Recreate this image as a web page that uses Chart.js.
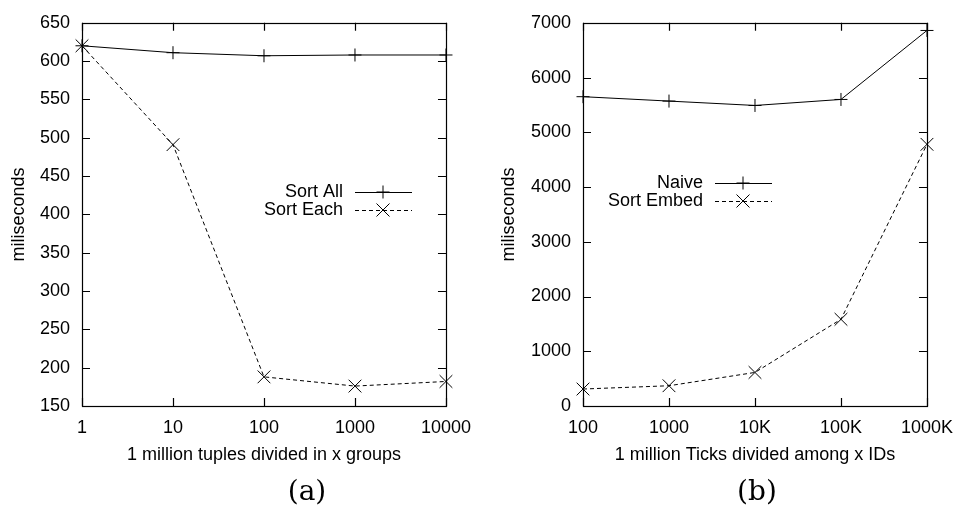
<!DOCTYPE html>
<html>
<head>
<meta charset="utf-8">
<script src="https://cdn.jsdelivr.net/npm/chart.js@4.4.0/dist/chart.umd.min.js"></script>
<style>
  html,body{margin:0;padding:0;background:#fff;}
  #wrap{position:relative;width:964px;height:512px;overflow:hidden;}
  .pane{position:absolute;top:0;width:482px;height:512px;}
  .cap{position:absolute;top:475px;font-family:"DejaVu Serif","Liberation Serif",serif;font-size:28px;line-height:32px;color:#000;transform:translateX(-50%);}
</style>
</head>
<body>
<div id="wrap">
  <div class="pane" style="left:0"><canvas id="chartA" width="482" height="512"></canvas></div>
  <div class="pane" style="left:482px"><canvas id="chartB" width="482" height="512"></canvas></div>
  <div class="cap" style="left:307px">(a)</div>
  <div class="cap" style="left:757px">(b)</div>
</div>
<script>
// ======= Data =======
const groupsA = ['1','10','100','1000','10000'];
const sortAll = [620, 611, 607, 608, 608];
const sortEach = [620, 491, 188, 176, 182];

const idsB = ['100','1000','10K','100K','1000K'];
const naive = [5650, 5570, 5490, 5600, 6860];
const sortEmbed = [310, 370, 613, 1584, 4780];

const FONT = "'Liberation Sans', Arial, Helvetica, sans-serif";
Chart.defaults.font.family = FONT;
Chart.defaults.font.size = 18;
Chart.defaults.color = '#000';

// ======= Frame + inward ticks (gnuplot style) =======
const frame = {
  id:'frame',
  afterDatasetsDraw(chart){
    const {ctx, chartArea:a, scales:{x,y}} = chart;
    const L = 8;
    ctx.save();
    ctx.strokeStyle = '#000';
    ctx.lineWidth = 1.2;
    ctx.setLineDash([]);
    ctx.beginPath();
    x.ticks.forEach((t,i)=>{
      const px = Math.round(x.getPixelForTick(i))+0.5;
      ctx.moveTo(px,a.bottom); ctx.lineTo(px,a.bottom-L);
      ctx.moveTo(px,a.top); ctx.lineTo(px,a.top+L);
    });
    y.ticks.forEach((t,i)=>{
      const py = Math.round(y.getPixelForTick(i))+0.5;
      ctx.moveTo(a.left,py); ctx.lineTo(a.left+L,py);
      ctx.moveTo(a.right,py); ctx.lineTo(a.right-L,py);
    });
    ctx.stroke();
    ctx.strokeRect(Math.round(a.left)+0.5, Math.round(a.top)+0.5, Math.round(a.right-a.left), Math.round(a.bottom-a.top));
    ctx.restore();
  }
};

// ======= Legend (text right, sample on the right) =======
function marker(ctx, style, cx, cy){
  ctx.beginPath();
  if(style==='cross'){
    ctx.moveTo(cx-6.5,cy); ctx.lineTo(cx+6.5,cy);
    ctx.moveTo(cx,cy-6.5); ctx.lineTo(cx,cy+6.5);
  }else{
    ctx.moveTo(cx-6.5,cy-6.5); ctx.lineTo(cx+6.5,cy+6.5);
    ctx.moveTo(cx-6.5,cy+6.5); ctx.lineTo(cx+6.5,cy-6.5);
  }
  ctx.stroke();
}
const boxLegend = {
  id:'boxLegend',
  afterDraw(chart, args, opts){
    const ctx = chart.ctx;
    ctx.save();
    ctx.font = '18px ' + FONT;
    ctx.textAlign = 'right';
    ctx.textBaseline = 'middle';
    ctx.fillStyle = '#000';
    chart.data.datasets.forEach((ds,i)=>{
      const yy = opts.y + i*18;
      ctx.fillText(ds.label, opts.x, yy);
      ctx.strokeStyle = '#000';
      ctx.lineWidth = 1;
      ctx.setLineDash(ds.borderDash||[]);
      ctx.beginPath();
      ctx.moveTo(opts.x+12, yy+0.5); ctx.lineTo(opts.x+69, yy+0.5);
      ctx.stroke();
      ctx.setLineDash([]);
      marker(ctx, ds.pointStyle, opts.x+40, yy);
    });
    ctx.restore();
  }
};

function makeChart(id, labels, series, names, yCfg, geom){
  return new Chart(document.getElementById(id), {
    type:'line',
    data:{
      labels,
      datasets:[
        {label:names[0], data:series[0], borderColor:'#000', borderWidth:1, pointStyle:'cross', pointRadius:6.5, pointBorderWidth:1, pointBorderColor:'#000', fill:false, tension:0},
        {label:names[1], data:series[1], borderColor:'#000', borderWidth:1, borderDash:[4,3], pointStyle:'crossRot', pointRadius:9, pointBorderWidth:1, pointBorderColor:'#000', fill:false, tension:0}
      ]
    },
    options:{
      responsive:false,
      animation:false,
      layout:{padding:{left:0, right:geom.right, top:geom.top, bottom:42}},
      plugins:{
        legend:{display:false},
        tooltip:{enabled:false},
        boxLegend:{x:geom.legX, y:geom.legY}
      },
      scales:{
        x:{
          offset:false,
          grid:{display:false, drawTicks:false},
          border:{display:false},
          ticks:{padding:11, maxRotation:0, autoSkip:false, font:{size:18}},
          title:{display:true, text:geom.xTitle, font:{size:18}, padding:{top:4,bottom:4}},
          afterFit(s){ s.height = 64; }
        },
        y:{
          min:yCfg.min, max:yCfg.max,
          grid:{display:false, drawTicks:false},
          border:{display:false},
          ticks:{stepSize:yCfg.step, padding:12, font:{size:18}, callback:v=>String(v)},
          title:{display:true, text:'miliseconds', font:{size:18}, padding:{top:geom.yTitlePad, bottom:0}},
          afterFit(s){ s.width = geom.left; }
        }
      }
    },
    plugins:[frame, boxLegend]
  });
}

makeChart('chartA', groupsA, [sortAll, sortEach], ['Sort All','Sort Each'],
  {min:150, max:650, step:50},
  {left:82, right:35, top:15, legX:343, legY:192, xTitle:'1 million tuples divided in x groups', yTitlePad:8});

makeChart('chartB', idsB, [naive, sortEmbed], ['Naive','Sort Embed'],
  {min:0, max:7000, step:1000},
  {left:101, right:28, top:14, legX:221, legY:183, xTitle:'1 million Ticks divided among x IDs', yTitlePad:16});
</script>
</body>
</html>
